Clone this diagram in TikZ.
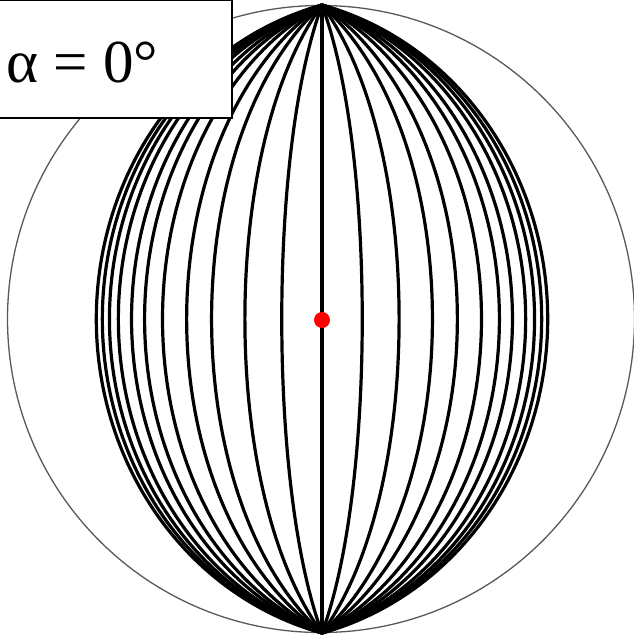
\documentclass[tikz,border=0pt]{standalone}
\usepackage{fontspec}
\setmainfont{Liberation Serif}
\begin{document}
\begin{tikzpicture}[x=1pt,y=-1pt,
  meridian/.style={black,line width=3.2pt},
  rim/.style={draw=black!65,line width=1.3pt},
  labelbox/.style={draw=black,line width=1.2pt,fill=white,inner sep=0pt},
  reddot/.style={fill=red,draw=none}]
\useasboundingbox (0,0) rectangle (633,637);
\def\R{314}
\def\cx{322}
\def\cy{319}
% primitive circle
\draw[rim] (321,319) circle[radius=313.5];
% central meridian
\draw[meridian] (\cx,5) -- (\cx,633);
% meridians (equal-area net)
\foreach \L in {10.4,20.0,28.8,35.5,42.1,47.1,50.8,54.6,57.2,59.3,61.1}{
  \draw[meridian] plot[domain=-90:90,samples=121,variable=\t]
    ({\cx + \R*cos(\t)*sin(\L)/sqrt(1+cos(\t)*cos(\L))},
     {\cy - \R*sin(\t)/sqrt(1+cos(\t)*cos(\L))});
  \draw[meridian] plot[domain=-90:90,samples=121,variable=\t]
    ({\cx - \R*cos(\t)*sin(\L)/sqrt(1+cos(\t)*cos(\L))},
     {\cy - \R*sin(\t)/sqrt(1+cos(\t)*cos(\L))});
}
% centre dot
\fill[reddot] (\cx,320) circle[radius=8];
% label
\path[labelbox] (-5,0) rectangle (232,118);
\node[anchor=base west,inner sep=0pt,font=\fontsize{61}{67}\selectfont] (lab) at (6,82) {α = 0°};
\end{tikzpicture}
\end{document}
